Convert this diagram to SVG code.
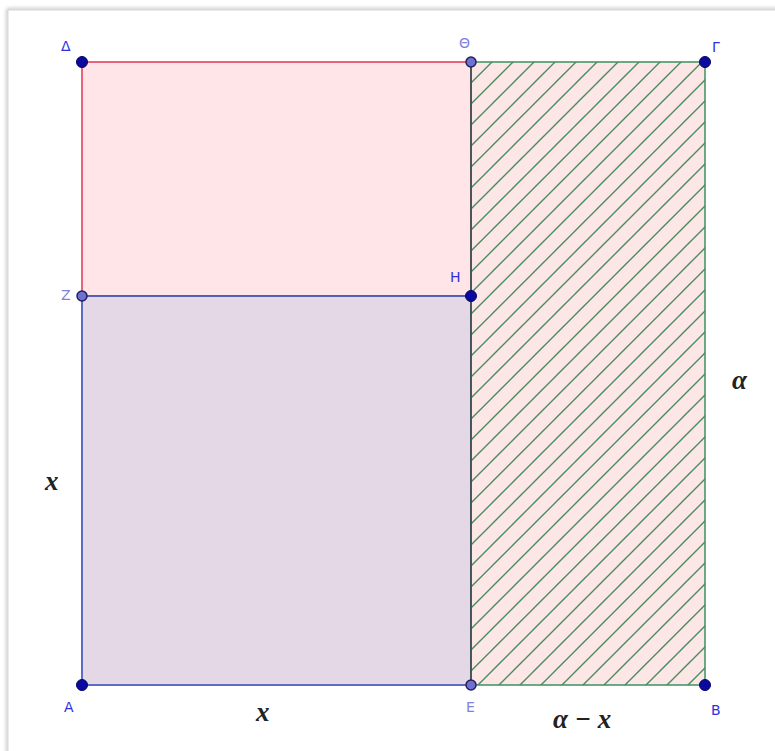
<svg xmlns="http://www.w3.org/2000/svg" width="775" height="751" viewBox="0 0 775 751">
<style>
.lbl{font-family:"DejaVu Sans","Liberation Sans",sans-serif;font-size:14px;fill:#3030e0}
.lbl2{font-family:"DejaVu Sans","Liberation Sans",sans-serif;font-size:14px;fill:#8080e0}
.math{font-family:"Liberation Serif","DejaVu Serif",serif;font-size:27px;font-style:italic;font-weight:bold;fill:#222}
.pt{fill:#0a0aa0;stroke:#050560;stroke-width:1}
.pt2{fill:#7070d0;stroke:#202060;stroke-width:1.5}
</style>
<defs>
<pattern id="hatch" patternUnits="userSpaceOnUse" width="21" height="21" x="471" y="62">
<rect width="21" height="21" fill="#fce6e6"/>
<path d="M-1,22 L22,-1 M-6,6 L6,-6 M15,27 L27,15" stroke="#4a8a5e" stroke-width="1.4"/>
</pattern>
<filter id="sh" x="-5%" y="-5%" width="110%" height="110%">
<feGaussianBlur stdDeviation="2"/>
</filter>
</defs>
<rect width="775" height="751" fill="#ffffff"/>
<rect x="8" y="10" width="790" height="760" fill="none" stroke="#999" stroke-width="2" filter="url(#sh)"/>
<rect x="8" y="10" width="790" height="760" fill="#fff" stroke="#d8d8d8" stroke-width="1"/>
<g id="rect-top">
<rect x="82" y="62" width="389" height="234" fill="#ffe4e8" stroke="#e85a72" stroke-width="1.5"/>
</g>
<g id="rect-bottom">
<rect x="82" y="296" width="389" height="389" fill="#e4d8e6" stroke="#5464c0" stroke-width="1.5"/>
</g>
<g id="rect-right">
<rect x="471" y="62" width="234" height="623" fill="url(#hatch)" stroke="#3e9060" stroke-width="1.5"/>
</g>
<g id="connectors">
<line x1="82" y1="62" x2="471" y2="62" stroke="#e85a72" stroke-width="1.5"/>
<line x1="82" y1="62" x2="82" y2="296" stroke="#e85a72" stroke-width="1.5"/>
<line x1="82" y1="296" x2="471" y2="296" stroke="#4a58b0" stroke-width="1.5"/>
<line x1="82" y1="296" x2="82" y2="685" stroke="#5464c0" stroke-width="1.5"/>
<line x1="82" y1="685" x2="471" y2="685" stroke="#5464c0" stroke-width="1.5"/>
<line x1="471" y1="62" x2="471" y2="685" stroke="#404050" stroke-width="1.5"/>
</g>
<g id="pt-Delta"><circle class="pt" cx="82" cy="62" r="5.5"/><text class="lbl" x="61" y="51">Δ</text></g>
<g id="pt-Theta"><circle class="pt2" cx="471" cy="62" r="5"/><text class="lbl2" x="459" y="48">Θ</text></g>
<g id="pt-Gamma"><circle class="pt" cx="705" cy="62" r="5.5"/><text class="lbl" x="712" y="52">Γ</text></g>
<g id="pt-Z"><circle class="pt2" cx="82" cy="296" r="5"/><text class="lbl2" x="61" y="300">Z</text></g>
<g id="pt-H"><circle class="pt" cx="471" cy="296" r="5.5"/><text class="lbl" x="450" y="282">H</text></g>
<g id="pt-A"><circle class="pt" cx="82" cy="685" r="5.5"/><text class="lbl" x="64" y="712">A</text></g>
<g id="pt-E"><circle class="pt2" cx="471" cy="685" r="5"/><text class="lbl2" x="466" y="712">E</text></g>
<g id="pt-B"><circle class="pt" cx="705" cy="685" r="5.5"/><text class="lbl" x="711" y="715">B</text></g>
<text class="math" x="45" y="490">x</text>
<text class="math" x="256" y="721">x</text>
<text class="math" x="553" y="728">α − x</text>
<text class="math" x="732" y="389">α</text>
</svg>
